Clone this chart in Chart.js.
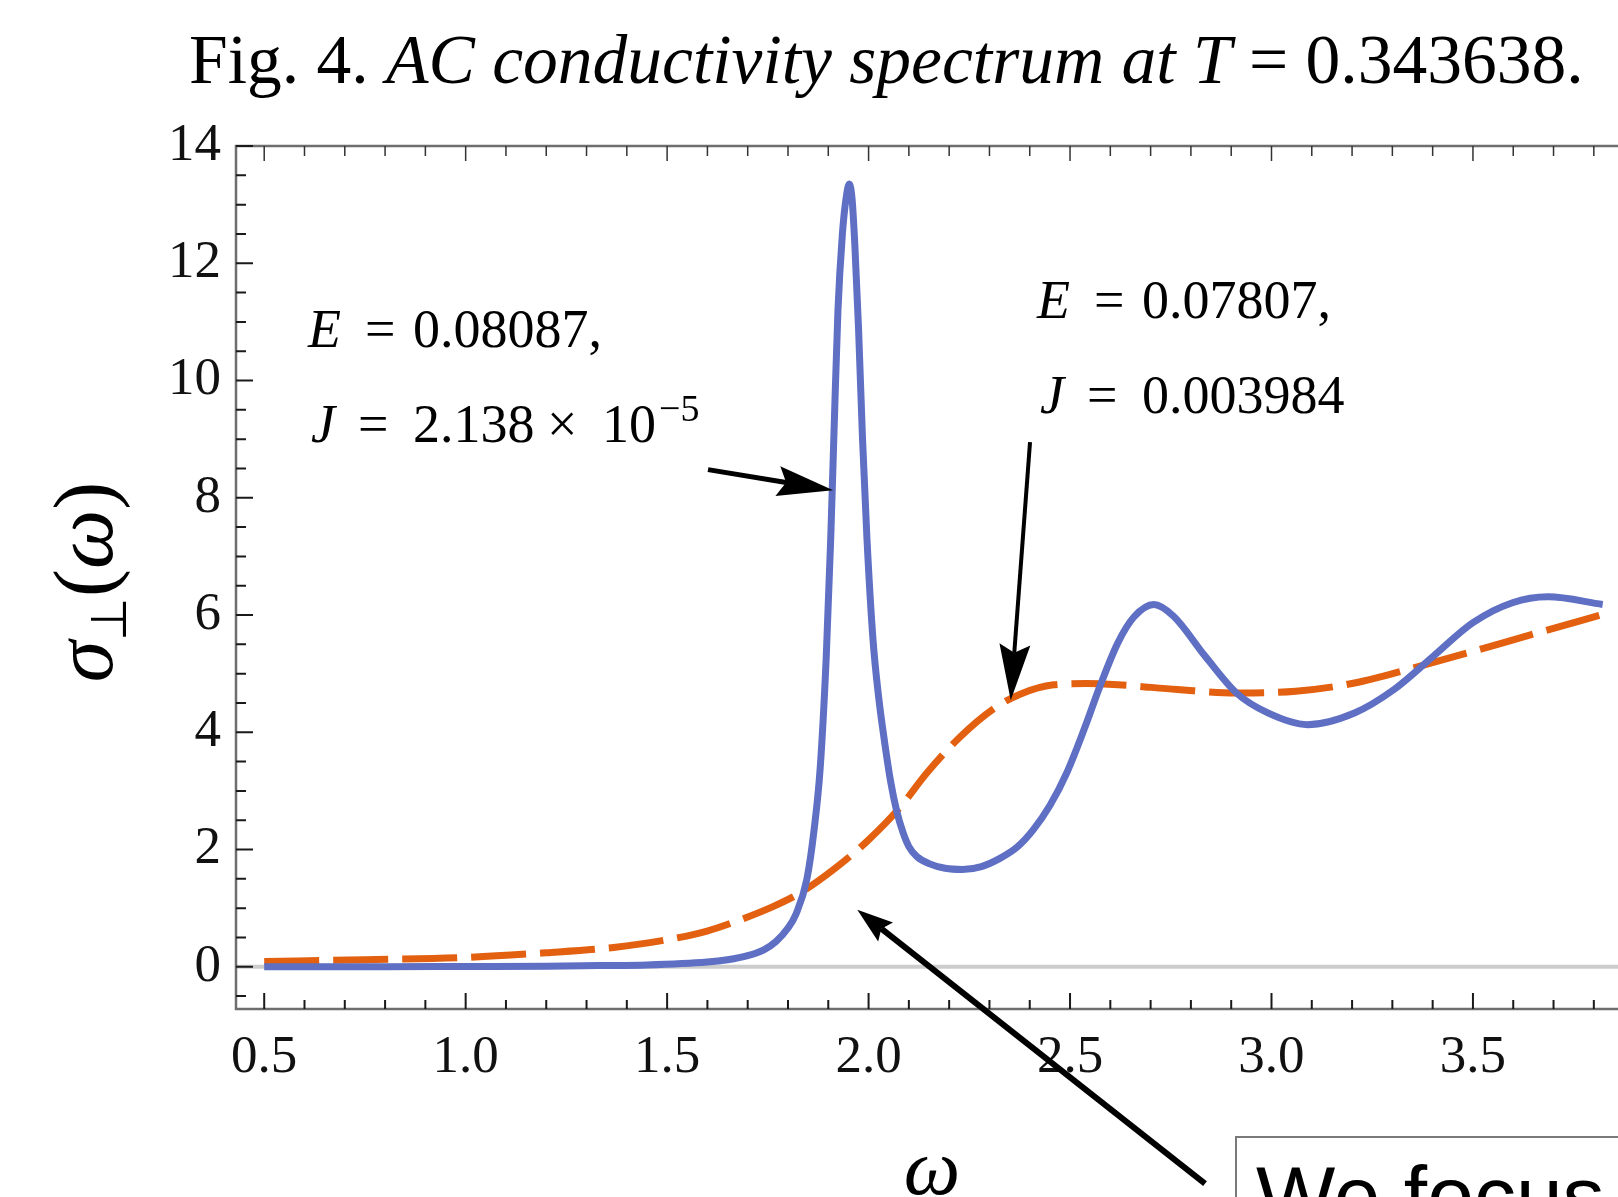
<!DOCTYPE html>
<html>
<head>
<meta charset="utf-8">
<script src="https://cdn.jsdelivr.net/npm/chart.js@4.4.1/dist/chart.umd.min.js"></script>
<style>
  html, body { margin: 0; padding: 0; background: #fff; overflow: hidden; }
  #wrap { width: 1618px; height: 1197px; position: relative; }
</style>
</head>
<body>
<div id="wrap"><canvas id="ac-chart"></canvas></div>
<script>
// E = 0.08087, J = 2.138e-5 (solid blue)
const blueOmega = [0.50, 0.80, 1.00, 1.20, 1.33, 1.45, 1.60, 1.65, 1.70, 1.74, 1.77, 1.80, 1.82, 1.847, 1.865, 1.88, 1.895, 1.906, 1.915, 1.924, 1.935, 1.944, 1.952,
  1.959, 1.966, 1.975, 1.985, 1.996, 2.011, 2.025, 2.039, 2.055, 2.07, 2.085, 2.10, 2.12, 2.15, 2.19, 2.233, 2.28, 2.326, 2.37, 2.409, 2.45, 2.492, 2.535, 2.575,
  2.619, 2.659, 2.708, 2.757, 2.835, 2.913, 2.991, 3.089, 3.206, 3.304, 3.402, 3.50, 3.598, 3.686, 3.822];
const blueSigma = [0.00, 0.00, 0.005, 0.01, 0.02, 0.03, 0.08, 0.12, 0.19, 0.29, 0.43, 0.66, 0.90, 1.50, 2.35, 3.40, 5.30, 7.30, 9.30, 11.2, 12.5, 13.1, 13.35,
  13.1, 12.3, 10.9, 9.0, 7.3, 5.58, 4.60, 3.87, 3.15, 2.65, 2.30, 2.05, 1.88, 1.76, 1.68, 1.66, 1.71, 1.85, 2.05, 2.34, 2.75, 3.31, 4.05, 4.80,
  5.53, 5.97, 6.18, 5.98, 5.30, 4.67, 4.33, 4.13, 4.33, 4.73, 5.30, 5.87, 6.21, 6.31, 6.18];

// E = 0.07807, J = 0.003984 (dashed orange)
const orangeOmega = [0.50, 0.75, 1.00, 1.20, 1.367, 1.499, 1.599, 1.681, 1.764, 1.830, 1.913, 1.996, 2.078, 2.144, 2.227, 2.310, 2.376, 2.459, 2.54,
  2.619, 2.766, 2.913, 3.060, 3.206, 3.353, 3.500, 3.647, 3.822];
const orangeSigma = [0.09, 0.12, 0.16, 0.24, 0.33, 0.46, 0.61, 0.80, 1.03, 1.26, 1.66, 2.14, 2.72, 3.30, 3.92, 4.40, 4.65, 4.81, 4.83,
  4.81, 4.73, 4.67, 4.70, 4.84, 5.10, 5.38, 5.67, 6.01];

const xMajorTicks = [0.5, 1.0, 1.5, 2.0, 2.5, 3.0, 3.5];
const xMinorTicks = [0.6, 0.7, 0.8, 0.9, 1.1, 1.2, 1.3, 1.4, 1.6, 1.7, 1.8, 1.9, 2.1, 2.2, 2.3, 2.4, 2.6, 2.7, 2.8, 2.9, 3.1, 3.2, 3.3, 3.4, 3.6, 3.7, 3.8];
const yMajorTicks = [0, 2, 4, 6, 8, 10, 12, 14];
const yMinorTicks = [-0.5, 0.5, 1, 1.5, 2.5, 3, 3.5, 4.5, 5, 5.5, 6.5, 7, 7.5, 8.5, 9, 9.5, 10.5, 11, 11.5, 12.5, 13, 13.5];

const SERIF = '"Liberation Serif", "Times New Roman", serif';
const BLUE = '#5e6fc4';
const ORANGE = '#e2600f';

function toPoints(xs, ys) {
  return xs.map((x, i) => ({ x: x, y: ys[i] }));
}

// draw a row of text pieces; each piece may carry its own offset, size, style, rise
function drawRuns(ctx, x, y, runs) {
  let cx = x;
  runs.forEach(r => {
    ctx.font = (r.italic ? 'italic ' : '') + r.size + 'px ' + SERIF;
    const px = r.at !== undefined ? x + r.at : cx;
    ctx.fillText(r.text, px, y - (r.rise || 0));
    cx = px + ctx.measureText(r.text).width;
  });
}

function arrow(ctx, x1, y1, x2, y2, lw, len, hw) {
  const a = Math.atan2(y2 - y1, x2 - x1);
  const c = Math.cos(a), s = Math.sin(a);
  const bx = x2 - c * len * 0.85, by = y2 - s * len * 0.85;
  ctx.save();
  ctx.strokeStyle = '#000';
  ctx.fillStyle = '#000';
  ctx.lineWidth = lw;
  ctx.beginPath();
  ctx.moveTo(x1, y1);
  ctx.lineTo(bx, by);
  ctx.stroke();
  ctx.beginPath();
  ctx.moveTo(x2, y2);
  ctx.lineTo(x2 - c * len - s * hw, y2 - s * len + c * hw);
  ctx.lineTo(bx, by);
  ctx.lineTo(x2 - c * len + s * hw, y2 - s * len - c * hw);
  ctx.closePath();
  ctx.fill();
  ctx.restore();
}

const frameTicks = {
  id: 'frameTicks',
  beforeDatasetsDraw(chart) {
    const { ctx, chartArea: a, scales: { y } } = chart;
    const y0 = y.getPixelForValue(0);
    ctx.save();
    ctx.strokeStyle = '#cccccc';
    ctx.lineWidth = 4;
    ctx.beginPath();
    ctx.moveTo(a.left, y0);
    ctx.lineTo(a.right, y0);
    ctx.stroke();
    ctx.restore();
  },
  afterDatasetsDraw(chart) {
    const { ctx, chartArea: a, scales: { x, y } } = chart;
    ctx.save();
    // frame
    ctx.strokeStyle = '#6e6e6e';
    ctx.lineWidth = 2.5;
    ctx.beginPath();
    ctx.moveTo(a.right + 2, a.top);
    ctx.lineTo(a.left, a.top);
    ctx.lineTo(a.left, a.bottom);
    ctx.lineTo(a.right + 2, a.bottom);
    ctx.stroke();

    ctx.strokeStyle = '#1a1a1a';
    ctx.lineWidth = 2;
    ctx.beginPath();
    yMajorTicks.forEach(v => { const p = y.getPixelForValue(v); ctx.moveTo(a.left, p); ctx.lineTo(a.left + 17, p); });
    yMinorTicks.forEach(v => { const p = y.getPixelForValue(v); ctx.moveTo(a.left, p); ctx.lineTo(a.left + 10, p); });
    xMajorTicks.forEach(v => { const p = x.getPixelForValue(v); ctx.moveTo(p, a.bottom); ctx.lineTo(p, a.bottom - 16); });
    xMinorTicks.forEach(v => { const p = x.getPixelForValue(v); ctx.moveTo(p, a.bottom); ctx.lineTo(p, a.bottom - 9); });
    ctx.stroke();

    ctx.strokeStyle = '#333';
    ctx.lineWidth = 1.5;
    ctx.beginPath();
    xMajorTicks.forEach(v => { const p = x.getPixelForValue(v); ctx.moveTo(p, a.top); ctx.lineTo(p, a.top + 15); });
    xMinorTicks.forEach(v => { const p = x.getPixelForValue(v); ctx.moveTo(p, a.top); ctx.lineTo(p, a.top + 10); });
    ctx.stroke();
    ctx.restore();
  }
};

// annotation anchors in data units (omega, sigma)
const notes = {
  leftE: [0.609, 10.575], leftJ: [0.609, 8.954],
  rightE: [2.418, 11.065], rightJ: [2.418, 9.444],
  arrow1: [1.6015, 8.48, 1.912, 8.13],
  arrow2: [2.4007, 8.95, 2.3528, 4.546],
  arrow3: [2.835, -3.70, 1.972, 0.974],
};

const decorations = {
  id: 'decorations',
  afterDraw(chart) {
    const { ctx, scales: { x, y } } = chart;
    const P = (w, s) => [x.getPixelForValue(w), y.getPixelForValue(s)];
    ctx.save();
    ctx.fillStyle = '#000';
    ctx.textBaseline = 'alphabetic';
    ctx.textAlign = 'left';

    // title, fitted to its width in the figure
    const title = [
      { text: 'Fig. 4. ', italic: false },
      { text: 'AC conductivity spectrum at T', italic: true },
      { text: ' = 0.343638.', italic: false },
    ];
    let w = 0;
    title.forEach(r => { ctx.font = (r.italic ? 'italic ' : '') + '100px ' + SERIF; w += ctx.measureText(r.text).width; });
    const tsize = 100 * 1395 / w;
    drawRuns(ctx, 189, 83, title.map(r => Object.assign({ size: tsize }, r)));

    // curve labels
    let p = P(...notes.leftE);
    drawRuns(ctx, p[0], p[1], [
      { text: 'E', italic: true, size: 54, at: 0 },
      { text: '=', size: 54, at: 57 },
      { text: '0.08087,', size: 54, at: 105 },
    ]);
    p = P(...notes.leftJ);
    drawRuns(ctx, p[0], p[1], [
      { text: 'J', italic: true, size: 54, at: 3 },
      { text: '=', size: 54, at: 50 },
      { text: '2.138', size: 54, at: 105 },
      { text: '\u00d7', size: 54, at: 239 },
      { text: '10', size: 54, at: 294 },
      { text: '\u22125', size: 38, at: 351, rise: 21 },
    ]);
    p = P(...notes.rightE);
    drawRuns(ctx, p[0], p[1], [
      { text: 'E', italic: true, size: 54, at: 0 },
      { text: '=', size: 54, at: 57 },
      { text: '0.07807,', size: 54, at: 105 },
    ]);
    p = P(...notes.rightJ);
    drawRuns(ctx, p[0], p[1], [
      { text: 'J', italic: true, size: 54, at: 3 },
      { text: '=', size: 54, at: 50 },
      { text: '0.003984', size: 54, at: 105 },
    ]);

    // arrows
    let q = notes.arrow1;
    arrow(ctx, ...P(q[0], q[1]), ...P(q[2], q[3]), 5, 56, 15);
    q = notes.arrow2;
    arrow(ctx, ...P(q[0], q[1]), ...P(q[2], q[3]), 4, 56, 15.5);
    q = notes.arrow3;
    arrow(ctx, ...P(q[0], q[1]), ...P(q[2], q[3]), 6, 36, 12);

    // axis titles
    ctx.save();
    ctx.translate(112, 582);
    ctx.rotate(-Math.PI / 2);
    const ylab = [
      { text: '\u03c3', italic: true, size: 84 },
      { text: '\u22a5', size: 50, rise: -14 },
      { text: '(', size: 84 },
      { text: '\u03c9', italic: true, size: 84 },
      { text: ')', size: 84 },
    ];
    let lw = 0;
    ylab.forEach(r => { ctx.font = (r.italic ? 'italic ' : '') + r.size + 'px ' + SERIF; lw += ctx.measureText(r.text).width; });
    drawRuns(ctx, -lw / 2, 0, ylab);
    ctx.restore();

    ctx.font = 'italic 80px ' + SERIF;
    ctx.textAlign = 'center';
    ctx.fillText('\u03c9', 932, 1194);
    ctx.textAlign = 'left';

    // side note box, cut off by the page edge
    ctx.strokeStyle = '#7a7a7a';
    ctx.lineWidth = 2;
    ctx.beginPath();
    ctx.moveTo(1236, 1200);
    ctx.lineTo(1236, 1137);
    ctx.lineTo(1620, 1137);
    ctx.stroke();
    ctx.font = '84px "Liberation Sans", Arial, sans-serif';
    ctx.fillText('We focus', 1256, 1225);
    ctx.restore();
  }
};

new Chart(document.getElementById('ac-chart'), {
  type: 'line',
  data: {
    datasets: [
      {
        label: 'E = 0.08087, J = 2.138e-5',
        data: toPoints(blueOmega, blueSigma),
        borderColor: BLUE,
        borderWidth: 7,
        pointRadius: 0,
        cubicInterpolationMode: 'monotone',
        borderJoinStyle: 'round',
        fill: false,
      },
      {
        label: 'E = 0.07807, J = 0.003984',
        data: toPoints(orangeOmega, orangeSigma),
        borderColor: ORANGE,
        borderWidth: 7,
        borderDash: [55, 14],
        borderCapStyle: 'butt',
        pointRadius: 0,
        cubicInterpolationMode: 'monotone',
        fill: false,
      },
    ],
  },
  options: {
    responsive: true,
    maintainAspectRatio: false,
    animation: false,
    devicePixelRatio: 1,
    layout: { padding: { top: 146, right: 0, left: 0, bottom: 0 } },
    plugins: { legend: { display: false }, tooltip: { enabled: false }, title: { display: false } },
    scales: {
      x: {
        type: 'linear',
        min: 0.43,
        max: 3.86,
        grid: { display: false, drawTicks: false },
        border: { display: false },
        afterBuildTicks: s => { s.ticks = xMajorTicks.map(v => ({ value: v })); },
        afterFit: s => { s.height = 188; },
        ticks: {
          autoSkip: false,
          maxRotation: 0,
          padding: 17,
          color: '#111',
          font: { family: SERIF, size: 53 },
          callback: v => Number(v).toFixed(1),
        },
      },
      y: {
        type: 'linear',
        min: -0.72,
        max: 14,
        grid: { display: false, drawTicks: false },
        border: { display: false },
        afterBuildTicks: s => { s.ticks = yMajorTicks.map(v => ({ value: v })); },
        afterFit: s => { s.width = 236; },
        ticks: {
          padding: 15,
          color: '#111',
          font: { family: SERIF, size: 53 },
          callback: v => String(v),
        },
      },
    },
  },
  plugins: [frameTicks, decorations],
});
</script>
</body>
</html>
